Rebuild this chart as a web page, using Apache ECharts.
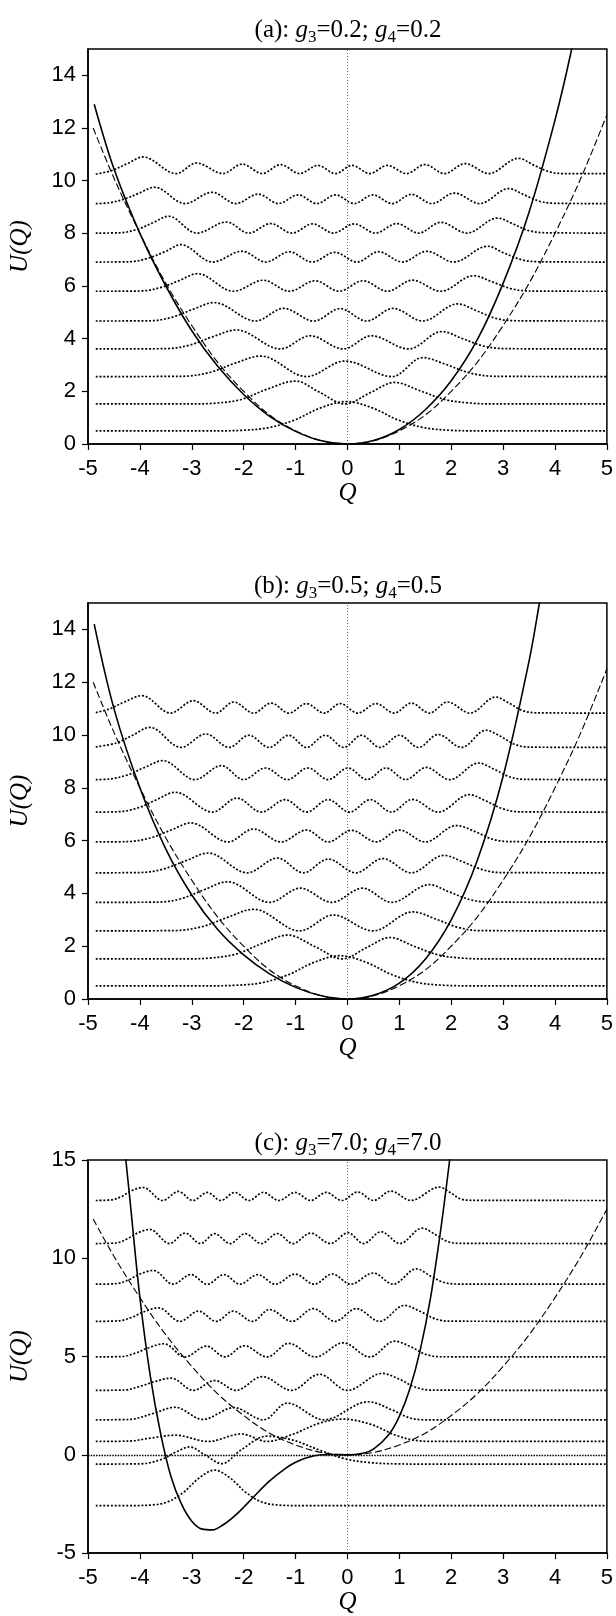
<!DOCTYPE html>
<html><head><meta charset="utf-8">
<script src="https://cdn.jsdelivr.net/npm/echarts@6/dist/echarts.min.js"></script>
<style>html,body{margin:0;padding:0;background:#fff}#c{width:616px;height:1616px}</style>
</head><body><div id="c"></div>
<script>
// ---------- data ----------
const panelTitles = ['(a): {i|g}{s|3}=0.2; {i|g}{s|4}=0.2', '(b): {i|g}{s|3}=0.5; {i|g}{s|4}=0.5', '(c): {i|g}{s|3}=7.0; {i|g}{s|4}=7.0'];
const yRanges = [[0, 15, 2], [0, 15, 2], [-5, 15, 5]];
const xRange = [-5, 5, 1];

// harmonic reference potential (dashed), same in all panels
const harmonic = [[-4.9,12.0],[-4.5,10.1],[-4,8],[-3.5,6.1],[-3,4.5],[-2.5,3.1],[-2,2],[-1.5,1.1],[-1,0.5],[-0.5,0.12],[0,0],[0.5,0.12],[1,0.5],[1.5,1.1],[2,2],[2.5,3.1],[3,4.5],[3.5,6.1],[4,8],[4.5,10.1],[5,12.5]];

// anharmonic potentials (solid)
const solidA = [[-4.88,12.9],[-4.5,10.45],[-4.0,8.0],[-3.5,6.0],[-3.0,4.3],[-2.5,2.95],[-2.0,1.88],[-1.5,1.05],[-1.0,0.48],[-0.5,0.12],[0,0],[0.5,0.13],[1.0,0.55],[1.5,1.3],[2.0,2.4],[2.5,3.95],[3.0,6.1],[3.5,8.8],[4.0,12.3],[4.3,14.8],[4.4,15.9]];
const solidB = [[-4.88,14.2],[-4.5,11.0],[-4.0,8.0],[-3.5,5.68],[-3.0,3.94],[-2.5,2.63],[-2.0,1.67],[-1.5,0.95],[-1.0,0.44],[-0.5,0.12],[0,0],[0.5,0.14],[1.0,0.6],[1.5,1.51],[2.0,3.0],[2.5,5.24],[3.0,8.44],[3.5,12.8],[3.7,15.0],[3.8,16.2]];
const solidC = [[-4.32,16.5],[-4.27,15.0],[-4.2,13.2],[-4.0,8.0],[-3.8,4.02],[-3.6,1.08],[-3.4,-1.12],[-3.2,-2.5],[-3.0,-3.38],[-2.8,-3.78],[-2.6,-3.82],[-2.4,-3.57],[-2.2,-3.17],[-2.0,-2.67],[-1.8,-2.12],[-1.5,-1.33],[-1.2,-0.7],[-1.0,-0.38],[-0.8,-0.16],[-0.5,0.0],[-0.25,0.02],[0,0],[0.3,0.08],[0.5,0.29],[0.8,1.04],[1.0,1.96],[1.2,3.34],[1.4,5.3],[1.6,7.97],[1.8,11.5],[1.97,15.0],[2.0,15.8]];

// probability densities drawn at their levels (dotted)
const wavesA = [
 [[-4.85,0.5],[-2.52,0.5],[-2.02,0.52],[-1.52,0.62],[-1.02,0.91],[-0.52,1.37],[-0.02,1.61],[0.48,1.37],[0.98,0.91],[1.48,0.62],[1.98,0.52],[2.48,0.5],[5,0.5]],
 [[-4.85,1.52],[-3.05,1.52],[-2.55,1.55],[-2.05,1.69],[-1.55,2.08],[-1.0,2.39],[-0.55,1.98],[-0.05,1.52],[0.45,1.96],[0.91,2.34],[1.4,2.02],[1.9,1.68],[2.4,1.55],[2.9,1.52],[5,1.52]],
 [[-4.85,2.56],[-3.2,2.57],[-2.65,2.72],[-2.15,3.08],[-1.67,3.34],[-0.79,2.56],[-0.05,3.15],[0.86,2.56],[1.45,3.28],[1.9,3.02],[2.35,2.7],[2.85,2.57],[5,2.56]],
 [[-4.85,3.61],[-3.5,3.62],[-3.05,3.75],[-2.6,4.07],[-2.14,4.33],[-1.29,3.61],[-0.72,4.11],[-0.08,3.61],[0.46,4.11],[1.18,3.61],[1.82,4.27],[2.22,4.0],[2.62,3.72],[3.05,3.62],[5,3.61]],
 [[-4.85,4.67],[-3.8,4.68],[-3.37,4.82],[-2.97,5.12],[-2.57,5.37],[-1.77,4.67],[-1.23,5.15],[-0.65,4.67],[-0.14,5.14],[0.37,4.67],[0.88,5.15],[1.45,4.67],[2.12,5.32],[2.5,5.05],[2.88,4.76],[3.28,4.68],[5,4.67]],
 [[-4.85,5.8],[-4.0,5.81],[-3.6,5.94],[-3.25,6.2],[-2.89,6.47],[-2.2,5.8],[-1.62,6.22],[-1.12,5.8],[-0.62,6.2],[-0.16,5.8],[0.30,6.2],[0.77,5.8],[1.25,6.22],[1.8,5.8],[2.43,6.39],[2.8,6.15],[3.15,5.9],[3.5,5.81],[5,5.8]],
 [[-4.85,6.91],[-4.2,6.92],[-3.85,7.05],[-3.52,7.3],[-3.21,7.57],[-2.6,6.91],[-2.03,7.32],[-1.57,6.91],[-1.12,7.3],[-0.68,6.91],[-0.24,7.28],[0.18,6.91],[0.6,7.3],[1.06,6.91],[1.53,7.32],[2.05,6.91],[2.70,7.51],[3.02,7.25],[3.35,7.0],[3.7,6.92],[5,6.91]],
 [[-4.85,8.01],[-4.4,8.02],[-4.05,8.15],[-3.75,8.4],[-3.45,8.65],[-2.9,8.01],[-2.33,8.43],[-1.9,8.01],[-1.48,8.37],[-1.07,8.01],[-0.67,8.36],[-0.27,8.01],[0.13,8.36],[0.54,8.01],[0.95,8.37],[1.37,8.01],[1.80,8.42],[2.3,8.01],[2.89,8.58],[3.2,8.35],[3.5,8.1],[3.85,8.02],[5,8.01]],
 [[-4.85,9.13],[-4.6,9.16],[-4.3,9.3],[-4.02,9.52],[-3.72,9.75],[-3.13,9.13],[-2.61,9.56],[-2.15,9.13],[-1.72,9.49],[-1.33,9.13],[-0.95,9.46],[-0.59,9.13],[-0.23,9.46],[0.13,9.13],[0.49,9.46],[0.86,9.13],[1.23,9.48],[1.63,9.13],[2.06,9.53],[2.55,9.13],[3.11,9.70],[3.4,9.47],[3.7,9.22],[4.0,9.14],[5,9.13]],
 [[-4.85,10.25],[-4.55,10.38],[-4.24,10.65],[-3.94,10.90],[-3.30,10.27],[-2.91,10.67],[-2.40,10.27],[-2.03,10.63],[-1.64,10.27],[-1.29,10.61],[-0.92,10.27],[-0.57,10.58],[-0.23,10.27],[0.09,10.58],[0.43,10.27],[0.77,10.58],[1.14,10.27],[1.49,10.61],[1.87,10.27],[2.27,10.65],[2.72,10.27],[3.30,10.85],[3.58,10.6],[3.87,10.35],[4.15,10.27],[5,10.27]]
];
const wavesB = [
 [[-4.85,0.5],[-2.64,0.5],[-2.14,0.52],[-1.64,0.62],[-1.14,0.92],[-0.64,1.39],[-0.14,1.64],[0.36,1.39],[0.86,0.92],[1.36,0.62],[1.86,0.52],[2.36,0.5],[5,0.5]],
 [[-4.85,1.52],[-3.15,1.52],[-2.65,1.55],[-2.15,1.7],[-1.65,2.1],[-1.15,2.42],[-0.62,1.98],[-0.1,1.52],[0.38,1.96],[0.82,2.33],[1.28,2.0],[1.75,1.67],[2.2,1.55],[2.65,1.52],[5,1.52]],
 [[-4.85,2.58],[-3.35,2.59],[-2.8,2.74],[-2.3,3.1],[-1.81,3.40],[-0.92,2.58],[-0.27,3.18],[0.49,2.58],[1.26,3.30],[1.7,3.03],[2.12,2.72],[2.55,2.59],[5,2.58]],
 [[-4.85,3.66],[-3.65,3.67],[-3.2,3.8],[-2.75,4.15],[-2.31,4.44],[-1.50,3.66],[-0.91,4.2],[-0.30,3.66],[0.29,4.2],[0.85,3.66],[1.58,4.33],[1.97,4.05],[2.37,3.76],[2.75,3.67],[5,3.66]],
 [[-4.85,4.78],[-4.0,4.79],[-3.55,4.92],[-3.1,5.25],[-2.69,5.53],[-1.93,4.78],[-1.35,5.34],[-0.85,4.78],[-0.37,5.30],[0.16,4.78],[0.68,5.32],[1.23,4.78],[1.86,5.44],[2.22,5.2],[2.6,4.9],[2.95,4.79],[5,4.78]],
 [[-4.85,5.95],[-4.25,5.96],[-3.8,6.1],[-3.4,6.4],[-3.02,6.67],[-2.30,5.95],[-1.81,6.44],[-1.28,5.95],[-0.79,6.40],[-0.37,5.95],[0.08,6.39],[0.55,5.95],[1.0,6.40],[1.5,5.95],[2.1,6.57],[2.45,6.35],[2.8,6.05],[3.15,5.96],[5,5.95]],
 [[-4.85,7.08],[-4.45,7.09],[-4.05,7.23],[-3.68,7.55],[-3.32,7.83],[-2.60,7.08],[-2.13,7.61],[-1.66,7.08],[-1.20,7.55],[-0.79,7.08],[-0.37,7.55],[0.04,7.08],[0.44,7.55],[0.85,7.08],[1.25,7.56],[1.75,7.08],[2.35,7.74],[2.67,7.5],[3.0,7.2],[3.3,7.09],[5,7.08]],
 [[-4.85,8.31],[-4.6,8.33],[-4.25,8.48],[-3.9,8.78],[-3.56,9.03],[-2.94,8.31],[-2.43,8.84],[-2.0,8.31],[-1.58,8.75],[-1.16,8.31],[-0.76,8.75],[-0.37,8.31],[0.01,8.75],[0.38,8.31],[0.74,8.75],[1.12,8.31],[1.52,8.77],[1.97,8.31],[2.53,8.94],[2.83,8.7],[3.12,8.42],[3.42,8.32],[5,8.31]],
 [[-4.85,9.55],[-4.45,9.7],[-4.13,10.0],[-3.81,10.29],[-3.21,9.53],[-2.73,10.04],[-2.28,9.53],[-1.90,9.99],[-1.51,9.53],[-1.13,9.99],[-0.79,9.53],[-0.43,9.99],[-0.07,9.53],[0.27,9.99],[0.63,9.53],[1.0,9.99],[1.37,9.53],[1.75,10.02],[2.2,9.53],[2.67,10.18],[2.95,9.95],[3.22,9.65],[3.5,9.54],[5,9.53]],
 [[-4.85,10.85],[-4.6,10.98],[-4.3,11.25],[-3.96,11.49],[-3.41,10.83],[-2.97,11.30],[-2.54,10.83],[-2.19,11.25],[-1.81,10.83],[-1.47,11.21],[-1.13,10.83],[-0.79,11.19],[-0.45,10.83],[-0.14,11.19],[0.2,10.83],[0.55,11.19],[0.9,10.83],[1.23,11.21],[1.58,10.83],[1.93,11.25],[2.36,10.83],[2.86,11.44],[3.12,11.2],[3.38,10.92],[3.65,10.84],[5,10.83]]
];
const wavesC = [
 [[-4.85,-2.58],[-4.1,-2.58],[-3.76,-2.55],[-3.46,-2.39],[-3.16,-1.91],[-2.86,-1.18],[-2.56,-0.78],[-2.26,-1.18],[-1.96,-1.91],[-1.66,-2.39],[-1.36,-2.55],[-1.0,-2.58],[5,-2.58]],
 [[-4.85,-0.47],[-4.0,-0.46],[-3.6,-0.25],[-3.3,0.15],[-3.04,0.40],[-2.75,0.0],[-2.42,-0.45],[-2.05,0.25],[-1.55,0.95],[-1.05,0.75],[-0.55,0.25],[-0.05,-0.2],[0.45,-0.4],[0.95,-0.46],[1.4,-0.47],[5,-0.47]],
 [[-4.85,0.68],[-4.2,0.7],[-3.8,0.85],[-3.32,1.0],[-2.68,0.68],[-2.05,1.06],[-1.55,0.68],[-1.05,1.05],[-0.55,1.6],[-0.09,1.82],[0.45,1.55],[0.95,0.98],[1.35,0.72],[1.7,0.68],[5,0.68]],
 [[-4.85,1.78],[-4.2,1.8],[-3.75,2.1],[-3.32,2.42],[-2.79,1.8],[-2.19,2.4],[-1.62,1.78],[-1.16,2.63],[-0.45,1.78],[0.40,2.7],[0.85,2.3],[1.2,1.88],[1.5,1.78],[5,1.78]],
 [[-4.85,3.28],[-4.3,3.3],[-4.0,3.48],[-3.72,3.72],[-3.40,3.9],[-2.97,3.28],[-2.56,3.78],[-2.15,3.28],[-1.64,3.98],[-1.08,3.28],[-0.54,4.1],[0.0,3.28],[0.67,4.14],[1.0,3.85],[1.3,3.45],[1.62,3.29],[5,3.28]],
 [[-4.85,4.98],[-4.35,5.0],[-4.08,5.18],[-3.83,5.45],[-3.54,5.65],[-3.13,4.98],[-2.72,5.53],[-2.36,4.98],[-1.99,5.55],[-1.55,4.98],[-1.13,5.67],[-0.62,4.98],[-0.08,5.70],[0.43,4.98],[0.91,5.78],[1.22,5.5],[1.5,5.12],[1.8,4.99],[5,4.98]],
 [[-4.85,6.79],[-4.4,6.82],[-4.15,7.0],[-3.92,7.28],[-3.64,7.48],[-3.23,6.79],[-2.87,7.31],[-2.53,6.79],[-2.2,7.31],[-1.83,6.79],[-1.50,7.39],[-1.07,6.79],[-0.66,7.44],[-0.24,6.79],[0.17,7.44],[0.62,6.79],[1.10,7.6],[1.4,7.3],[1.68,6.93],[1.95,6.8],[5,6.79]],
 [[-4.85,8.68],[-4.45,8.71],[-4.22,8.9],[-4.0,9.2],[-3.74,9.38],[-3.36,8.68],[-3.02,9.17],[-2.70,8.68],[-2.38,9.17],[-2.07,8.68],[-1.73,9.17],[-1.39,8.68],[-1.01,9.2],[-0.64,8.68],[-0.29,9.2],[0.06,8.68],[0.50,9.25],[0.88,8.68],[1.33,9.46],[1.6,9.1],[1.85,8.78],[2.1,8.69],[5,8.68]],
 [[-4.85,10.75],[-4.45,10.78],[-4.25,10.98],[-4.05,11.28],[-3.81,11.47],[-3.43,10.75],[-3.13,11.28],[-2.83,10.75],[-2.56,11.25],[-2.26,10.75],[-1.97,11.25],[-1.66,10.75],[-1.35,11.26],[-1.05,10.75],[-0.71,11.28],[-0.33,10.75],[0.01,11.3],[0.31,10.75],[0.65,11.35],[1.01,10.75],[1.44,11.53],[1.7,11.2],[1.92,10.86],[2.15,10.76],[5,10.75]],
 [[-4.85,12.94],[-4.55,12.97],[-4.35,13.15],[-4.15,13.45],[-3.94,13.6],[-3.56,12.94],[-3.26,13.4],[-2.98,12.94],[-2.70,13.35],[-2.44,12.94],[-2.17,13.35],[-1.90,12.94],[-1.62,13.35],[-1.32,12.94],[-1.01,13.35],[-0.71,12.94],[-0.41,13.35],[-0.11,12.94],[0.20,13.37],[0.50,12.94],[0.84,13.42],[1.22,12.94],[1.77,13.62],[1.98,13.35],[2.18,13.02],[2.4,12.95],[5,12.94]]
];

// ---------- layout & styling ----------
const solids = [solidA, solidB, solidC];
const waves = [wavesA, wavesB, wavesC];
const grids = [
  {left: 86, top: 49, width: 523, height: 395},
  {left: 86, top: 603, width: 523, height: 396},
  {left: 86, top: 1160, width: 523, height: 395}
];
const titleTops = [9, 565, 1122];
const serif = 'Liberation Serif';
const sans = 'Liberation Sans';

const option = {
  animation: false,
  backgroundColor: '#fff',
  title: panelTitles.map((t, i) => ({
    text: t, left: 343, top: titleTops[i], textAlign: 'center',
    textStyle: {
      fontFamily: serif, fontSize: 25, fontWeight: 'normal', color: '#000', lineHeight: 32,
      rich: {
        i: {fontFamily: serif, fontStyle: 'italic', fontSize: 25, color: '#000', lineHeight: 32},
        s: {fontFamily: serif, fontSize: 17, color: '#000', lineHeight: 16, verticalAlign: 'bottom'}
      }
    }
  })),
  grid: grids.map(g => Object.assign({show: true, borderColor: '#000', borderWidth: 1.5, backgroundColor: 'transparent'}, g)),
  xAxis: grids.map((g, i) => ({
    type: 'value', gridIndex: i, min: xRange[0], max: xRange[1], interval: xRange[2],
    name: 'Q', nameLocation: 'middle', nameGap: 34,
    nameTextStyle: {fontFamily: serif, fontStyle: 'italic', fontSize: 25, color: '#000'},
    axisLine: {show: true, onZero: false, lineStyle: {color: '#000', width: 1.5}},
    axisTick: {show: true, inside: false, length: 6, lineStyle: {color: '#000', width: 1.2}},
    axisLabel: {fontFamily: sans, fontSize: 22, color: '#000', margin: 14},
    splitLine: {show: false}
  })),
  yAxis: grids.map((g, i) => ({
    type: 'value', gridIndex: i, min: yRanges[i][0], max: yRanges[i][1], interval: yRanges[i][2],
    name: 'U(Q)', nameLocation: 'middle', nameGap: 55,
    nameTextStyle: {fontFamily: serif, fontStyle: 'italic', fontSize: 25, color: '#000'},
    axisLine: {show: true, onZero: false, lineStyle: {color: '#000', width: 1.5}},
    axisTick: {show: true, inside: false, length: 6, lineStyle: {color: '#000', width: 1.2}},
    axisLabel: {fontFamily: sans, fontSize: 22, color: '#000', margin: 12, showMaxLabel: i === 2},
    splitLine: {show: false}
  })),
  series: []
};

for (let p = 0; p < 3; p++) {
  const mlData = [{xAxis: 0, lineStyle: {type: [1, 2], color: '#555', width: 0.9}}];
  if (p === 2) mlData.push({yAxis: 0, lineStyle: {type: [1.5, 1.2], color: '#000', width: 1.3}});
  option.series.push({
    type: 'line', xAxisIndex: p, yAxisIndex: p, data: harmonic, smooth: 0.35,
    showSymbol: false, symbol: 'none', z: 3,
    lineStyle: {type: [7, 3], width: 1.1, color: '#000'},
    markLine: {silent: true, symbol: ['none', 'none'], label: {show: false}, animation: false, data: mlData}
  });
  option.series.push({
    type: 'line', xAxisIndex: p, yAxisIndex: p, data: solids[p], smooth: 0.35,
    showSymbol: false, symbol: 'none', z: 4,
    lineStyle: {type: 'solid', width: 1.6, color: '#000'}
  });
  waves[p].forEach(w => {
    option.series.push({
      type: 'line', xAxisIndex: p, yAxisIndex: p, data: w, smooth: 0.35,
      showSymbol: false, symbol: 'none', z: 2,
      lineStyle: {type: [2, 1.8], width: 1.7, color: '#000'}
    });
  });
}

const chart = echarts.init(document.getElementById('c'), null, {renderer: 'canvas'});
chart.setOption(option);
</script>
</body></html>
